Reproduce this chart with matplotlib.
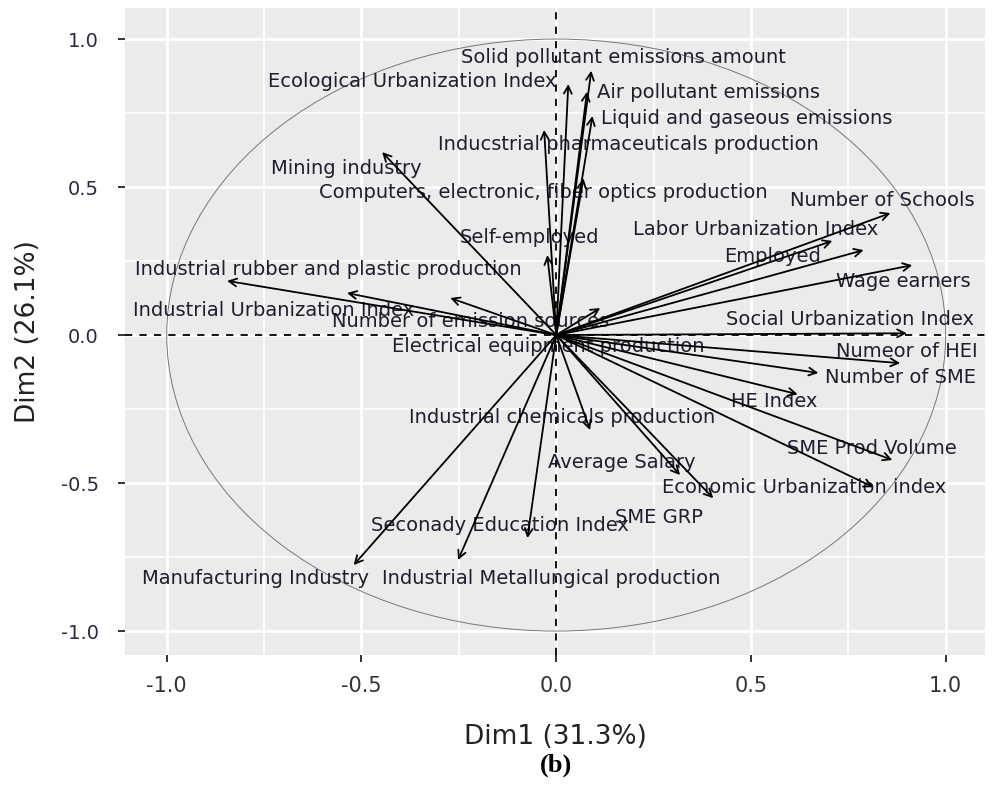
import matplotlib.pyplot as plt
from matplotlib.patches import Circle

# variable loadings on the first two PCA dimensions
variables = [
    "Solid pollutant emissions amount", "Ecological Urbanization Index",
    "Air pollutant emissions", "Liquid and gaseous emissions",
    "Inducstrial pharmaceuticals production", "Mining industry",
    "Computers, electronic, fiber optics production", "Number of Schools",
    "Labor Urbanization Index", "Self-employed", "Employed",
    "Industrial rubber and plastic production", "Wage earners",
    "Industrial Urbanization Index", "Number of emission sources",
    "Social Urbanization Index", "Electrical equipment production",
    "Numeor of HEI", "Number of SME", "HE Index",
    "Industrial chemicals production", "SME Prod Volume", "Average Salary",
    "Economic Urbanization index", "SME GRP", "Seconady Education Index",
    "Manufacturing Industry", "Industrial Metallungical production",
]
dim1 = [0.090, 0.031, 0.079, 0.093, -0.031, -0.447, 0.070, 0.858,
        0.709, -0.023, 0.789, -0.845, 0.914, -0.537, -0.272,
        0.900, 0.113, 0.883, 0.673, 0.620, 0.087, 0.863, 0.318,
        0.814, 0.403, -0.074, -0.520, -0.252]
dim2 = [0.893, 0.848, 0.822, 0.740, 0.693, 0.618, 0.530, 0.412,
        0.318, 0.270, 0.287, 0.183, 0.236, 0.142, 0.125,
        0.006, 0.091, -0.095, -0.128, -0.200, -0.321, -0.422, -0.473,
        -0.514, -0.551, -0.686, -0.777, -0.760]

# where each label sits (repelled away from the arrow tips)
label_x = [0.172, -0.370, 0.390, 0.490, 0.185, -0.539, -0.033, 0.837,
           0.513, -0.069, 0.555, -0.585, 0.891, -0.726, -0.221,
           0.755, -0.021, 0.901, 0.883, 0.560, 0.015, 0.811, 0.169,
           0.637, 0.264, -0.144, -0.773, -0.013]
label_y = [0.939, 0.855, 0.821, 0.730, 0.645, 0.564, 0.480, 0.453,
           0.358, 0.328, 0.267, 0.220, 0.182, 0.084, 0.047,
           0.051, -0.037, -0.054, -0.142, -0.226, -0.280, -0.382, -0.429,
           -0.514, -0.615, -0.642, -0.821, -0.821]

ticks = [-1.0, -0.5, 0.0, 0.5, 1.0]
minor_ticks = [-0.75, -0.25, 0.25, 0.75]
tick_labels = ['-1.0', '-0.5', '0.0', '0.5', '1.0']

fig = plt.figure(figsize=(9.94, 7.89), dpi=100)
ax = fig.add_axes([0.1258, 0.1698, 0.8652, 0.8201])
ax.set_facecolor('#EBEBEB')
for s in ax.spines.values():
    s.set_visible(False)

ax.set_xlim(-1.107, 1.101)
ax.set_ylim(-1.081, 1.105)
ax.set_xticks(ticks)
ax.set_yticks(ticks)
ax.set_xticks(minor_ticks, minor=True)
ax.set_yticks(minor_ticks, minor=True)
ax.grid(which='major', color='white', lw=2.0)
ax.grid(which='minor', color='white', lw=1.2)
ax.set_axisbelow(True)
ax.tick_params(which='minor', length=0)
ax.tick_params(which='major', length=5, width=1.4, color='#333333')
ax.tick_params(axis='x', pad=10)
ax.tick_params(axis='y', pad=14)
ax.set_xticklabels(tick_labels, fontsize=15, color='#333333')
ax.set_yticklabels(tick_labels, fontsize=14, color='#2a2a40')

# correlation circle and axes through the origin
ax.add_patch(Circle((0, 0), 1, fill=False, ec='#777777', lw=0.7, zorder=1))
ax.axhline(0, color='black', ls=(0, (4, 4)), lw=1.3, zorder=2)
ax.axvline(0, color='black', ls=(0, (4, 4)), lw=1.3, zorder=2)

for name, lx, ly in zip(variables, label_x, label_y):
    ax.text(lx, ly, name, ha='center', va='center', fontsize=14,
            color='#1e1e2e', zorder=3)

for x, y in zip(dim1, dim2):
    ax.annotate('', xy=(x, y), xytext=(0, 0), zorder=4,
                arrowprops=dict(arrowstyle='->,head_length=0.55,head_width=0.28',
                                color='black', lw=1.3, shrinkA=0, shrinkB=0))

ax.set_xlabel('Dim1 (31.3%)', fontsize=19, color='#222222', labelpad=20)
ax.set_ylabel('Dim2 (26.1%)', fontsize=19, color='#222222', labelpad=14)

fig.text(0.5595, 0.030, '(b)', ha='center', va='center', fontsize=19,
         fontweight='bold', family=['Liberation Serif', 'DejaVu Serif'])

fig.savefig('out.png', dpi=100)
